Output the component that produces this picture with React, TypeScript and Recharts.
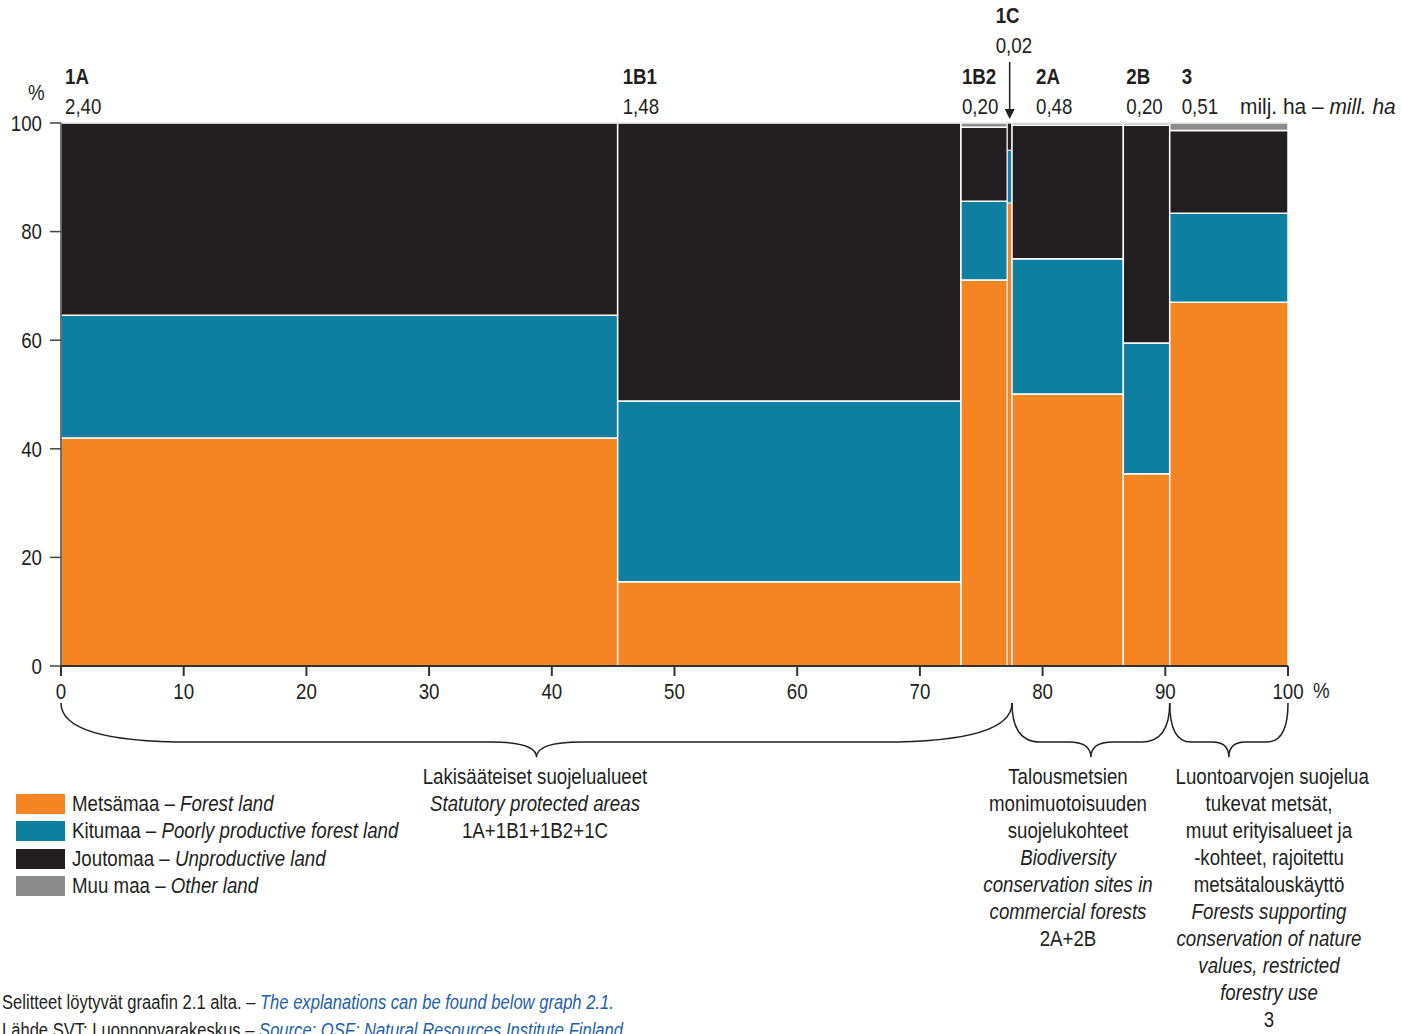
import { ComposedChart, XAxis, YAxis, ReferenceArea, ReferenceLine, Line } from 'recharts';

const FONT = '"Liberation Sans", Arial, sans-serif';
const INK = '#231F20';
const SX = 0.85; // narrow the face towards a condensed look

// columns: protection category, area in million ha
const categories = ['1A', '1B1', '1B2', '1C', '2A', '2B', '3'];
const areaLabels = ['2,40', '1,48', '0,20', '0,02', '0,48', '0,20', '0,51'];
const areas = [2.4, 1.48, 0.2, 0.02, 0.48, 0.2, 0.51];

// share of each land class, % of column
const forestLand = [42.0, 15.5, 71.1, 85.3, 50.1, 35.4, 67.0];
const poorlyProductive = [22.6, 33.3, 14.5, 9.7, 24.9, 24.1, 16.4];
const unproductive = [35.4, 51.2, 13.6, 5.0, 24.6, 40.1, 15.2];
const otherLand = [0, 0, 0.8, 0, 0.4, 0.4, 1.4];

const xTicks = [0, 10, 20, 30, 40, 50, 60, 70, 80, 90, 100];
const yTicks = [0, 20, 40, 60, 80, 100];

const layers = [
  { name: 'Metsämaa', en: 'Forest land', values: forestLand, color: '#F58423' },
  { name: 'Kitumaa', en: 'Poorly productive forest land', values: poorlyProductive, color: '#0E7FA0' },
  { name: 'Joutomaa', en: 'Unproductive land', values: unproductive, color: INK },
  { name: 'Muu maa', en: 'Other land', values: otherLand, color: '#8C8C8C' },
];

// brace groups: first and last column index
const groups = [
  [0, 3],
  [4, 5],
  [6, 6],
];

const total = areas.reduce((a, b) => a + b, 0);
let run = 0;
const columns = categories.map((name, i) => {
  const start = (run / total) * 100;
  run += areas[i];
  const end = (run / total) * 100;
  let lo = 0;
  const cells = layers
    .map((l) => {
      const v = l.values[i];
      const c = { y1: lo, y2: Math.min(100, lo + v), color: l.color, v };
      lo += v;
      return c;
    })
    .filter((c) => c.v > 0);
  return { name, label: areaLabels[i], start, end, mid: (start + end) / 2, top: 100, cells };
});

const labelShift = [4, 5, 1, 0, 24, 3, 12];

function NText({ x, y, children, anchor = 'start', dy, size = 22, weight = 'normal' }: any) {
  return (
    <text
      transform={`translate(${x},${y}) scale(${SX},1)`}
      textAnchor={anchor}
      dy={dy}
      fontSize={size}
      fontWeight={weight}
      fontFamily={FONT}
      fill={INK}
    >
      {children}
    </text>
  );
}

const XTick = (p: any) => (
  <NText x={p.x} y={p.y} anchor="middle" dy="0.71em">
    {p.payload.value}
  </NText>
);
const YTick = (p: any) => (
  <NText x={p.x} y={p.y} anchor="end" dy="0.355em">
    {p.payload.value}
  </NText>
);

function Brace(props: any) {
  const { x, y, width, height } = props;
  const c = x + width / 2;
  const mid = y + height * 0.72;
  const bot = y + height;
  const r = Math.min(width * 0.18, 130);
  const t = Math.min(width * 0.14, 45);
  const x2 = x + width;
  const d =
    `M${x},${y} Q${x},${mid} ${x + r},${mid} L${c - t},${mid} Q${c},${mid} ${c},${bot} ` +
    `Q${c},${mid} ${c + t},${mid} L${x2 - r},${mid} Q${x2},${mid} ${x2},${y}`;
  return <path d={d} fill="none" stroke={INK} strokeWidth={1.5} />;
}

function topLabel(col: any, i: number) {
  return (props: any) => {
    const vb = props.viewBox || props;
    const top = vb.y;
    if (col.name === '1C') {
      const ax = vb.x;
      return (
        <g>
          <NText x={ax - 14} y={top - 100} weight="bold">{col.name}</NText>
          <NText x={ax - 14} y={top - 70}>{col.label}</NText>
          <line x1={ax} x2={ax} y1={top - 61} y2={top - 12} stroke={INK} strokeWidth={1.5} />
          <path d={`M${ax - 5},${top - 14} L${ax + 5},${top - 14} L${ax},${top - 4} Z`} fill={INK} />
        </g>
      );
    }
    const tx = vb.x + labelShift[i];
    return (
      <g>
        <NText x={tx} y={top - 39} weight="bold">{col.name}</NText>
        <NText x={tx} y={top - 9}>{col.label}</NText>
      </g>
    );
  };
}

const abs = (left: number, top: number, extra: any = {}) => ({
  position: 'absolute' as const,
  left,
  top,
  fontSize: 22,
  lineHeight: '27px',
  whiteSpace: 'nowrap' as const,
  transform: `scaleX(${SX})`,
  transformOrigin: 'left center',
  ...extra,
});

export default function App() {
  return (
    <div
      style={{
        position: 'absolute',
        left: 0,
        top: 0,
        width: 1402,
        height: 1034,
        overflow: 'hidden',
        fontFamily: FONT,
        color: INK,
        background: '#fff',
      }}
    >
      <ComposedChart width={1402} height={1034} data={columns} margin={{ top: 123, right: 94, bottom: 338, left: 0 }}>
        <XAxis
          type="number"
          dataKey="mid"
          domain={[0, 100]}
          ticks={xTicks}
          allowDataOverflow
          height={30}
          tickSize={10}
          tickMargin={7}
          stroke="#333"
          strokeWidth={2}
          tick={XTick}
        />
        <YAxis
          yAxisId="left"
          type="number"
          domain={[0, 100]}
          ticks={yTicks}
          allowDataOverflow
          width={61}
          tickSize={11}
          tickMargin={8}
          stroke="#444"
          strokeWidth={1.5}
          tick={YTick}
        />
        <YAxis
          yAxisId="right"
          orientation="right"
          type="number"
          domain={[0, 100]}
          ticks={yTicks}
          allowDataOverflow
          width={20}
          tickSize={9}
          axisLine={false}
          tick={false}
          stroke="#555"
          strokeWidth={1.5}
        />
        <Line yAxisId="left" dataKey="top" stroke="none" dot={false} activeDot={false} isAnimationActive={false} />
        <Line yAxisId="right" dataKey="top" stroke="none" dot={false} activeDot={false} isAnimationActive={false} />
        <ReferenceLine yAxisId="left" y={100} stroke="#d8d8d8" strokeWidth={1} ifOverflow="visible" />
        {columns.map((col) =>
          col.cells.map((cell, j) => (
            <ReferenceArea
              key={col.name + j}
              yAxisId="left"
              x1={col.start}
              x2={col.end}
              y1={cell.y1}
              y2={cell.y2}
              ifOverflow="visible"
              fill={cell.color}
              fillOpacity={1}
              stroke="#fff"
              strokeWidth={col.name === '1C' ? 0.8 : 1.5}
            />
          ))
        )}
        {columns.map((col, i) => (
          <ReferenceLine
            key={'lab' + col.name}
            yAxisId="left"
            x={col.name === '1C' ? col.mid : col.start}
            stroke="none"
            label={topLabel(col, i)}
          />
        ))}
        {groups.map(([a, b]) => (
          <ReferenceArea
            key={'brace' + a}
            yAxisId="left"
            x1={columns[a].start}
            x2={columns[b].end}
            y1={-16.8}
            y2={-6.8}
            ifOverflow="visible"
            shape={Brace}
          />
        ))}
      </ComposedChart>

      <div style={abs(28, 79)}>%</div>
      <div style={abs(1313, 677)}>%</div>
      <div style={abs(1240, 93, { transform: 'scaleX(0.95)' })}>
        milj. ha – <i>mill. ha</i>
      </div>

      {layers.map((l, i) => (
        <div key={l.name} style={{ position: 'absolute', left: 16, top: 790 + i * 27.6, height: 27, display: 'flex', alignItems: 'center' }}>
          <span style={{ display: 'inline-block', width: 49, height: 20, background: l.color, marginRight: 7 }} />
          <span style={{ fontSize: 22, whiteSpace: 'nowrap', transform: `scaleX(${SX})`, transformOrigin: 'left center' }}>
            {l.name} – <i>{l.en}</i>
          </span>
        </div>
      ))}

      <div style={abs(335, 763, { width: 400, textAlign: 'center', transformOrigin: 'center' })}>
        Lakisääteiset suojelualueet
        <br />
        <i>Statutory protected areas</i>
        <br />
        1A+1B1+1B2+1C
      </div>
      <div style={abs(968, 763, { width: 200, textAlign: 'center', transformOrigin: 'center' })}>
        Talousmetsien
        <br />
        monimuotoisuuden
        <br />
        suojelukohteet
        <br />
        <i>Biodiversity</i>
        <br />
        <i>conservation sites in</i>
        <br />
        <i>commercial forests</i>
        <br />
        2A+2B
      </div>
      <div style={abs(1159, 763, { width: 220, textAlign: 'center', transformOrigin: 'center' })}>
        Luontoarvojen suojelua
        <br />
        tukevat metsät,
        <br />
        muut erityisalueet ja
        <br />
        -kohteet, rajoitettu
        <br />
        metsätalouskäyttö
        <br />
        <i>Forests supporting</i>
        <br />
        <i>conservation of nature</i>
        <br />
        <i>values, restricted</i>
        <br />
        <i>forestry use</i>
        <br />
        3
      </div>

      <div style={abs(2, 989, { fontSize: 19.5 })}>
        Selitteet löytyvät graafin 2.1 alta. – <i style={{ color: '#1F5FA8' }}>The explanations can be found below graph 2.1.</i>
      </div>
      <div style={abs(2, 1017, { fontSize: 19.5 })}>
        Lähde SVT: Luonnonvarakeskus – <i style={{ color: '#1F5FA8' }}>Source: OSF: Natural Resources Institute Finland</i>
      </div>
    </div>
  );
}
